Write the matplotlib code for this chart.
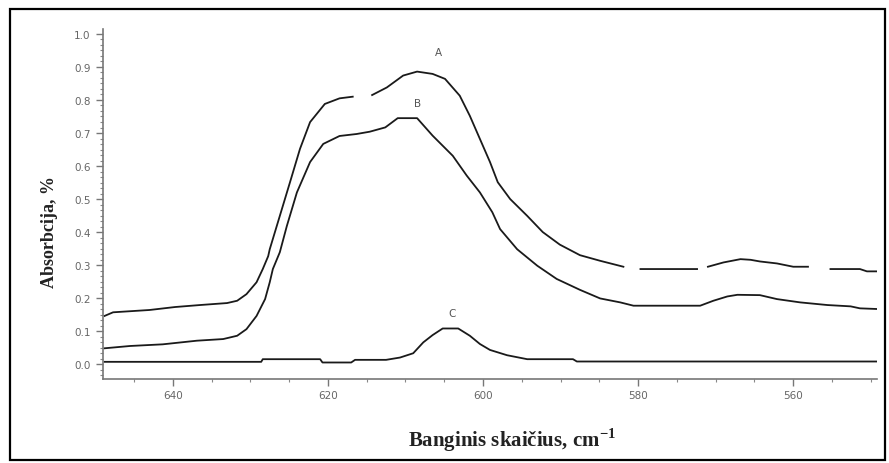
import numpy as np
import matplotlib
matplotlib.use("Agg")
import matplotlib.pyplot as plt
from matplotlib.ticker import MultipleLocator, AutoMinorLocator
from matplotlib.patches import Rectangle

plt.rcParams['mathtext.fontset'] = 'custom'
plt.rcParams['mathtext.rm'] = 'Liberation Serif'
plt.rcParams['mathtext.bf'] = 'Liberation Serif:bold'

# Spectra, wavenumber (cm-1) and absorption; nan marks breaks in the trace
wn_a = [648.8, 647.7, 643.0, 639.7, 636.5, 633.0, 631.7, 630.5, 629.2, 628.4,
        627.7, 627.5, 626.2, 624.9, 623.6, 622.3, 620.4, 618.5, 616.8, np.nan,
        614.3, 612.4, 610.3, 608.5, 606.5, 604.9, 603.0, 601.7, 600.4, 599.1,
        598.1, 596.5, 594.3, 592.3, 590.1, 587.5, 584.9, 581.9, np.nan, 579.7,
        572.4, np.nan, 571.0, 569.0, 566.8, 565.5, 564.3, 562.1, 560.0, 558.1,
        np.nan, 555.2, 551.4, 550.5, 549.2]
abs_a = [0.146, 0.157, 0.164, 0.173, 0.179, 0.185, 0.192, 0.212, 0.248, 0.288,
         0.327, 0.348, 0.449, 0.550, 0.652, 0.733, 0.788, 0.805, 0.810, np.nan,
         0.815, 0.838, 0.874, 0.886, 0.879, 0.864, 0.813, 0.752, 0.682, 0.612,
         0.551, 0.500, 0.449, 0.400, 0.362, 0.330, 0.313, 0.295, np.nan, 0.288,
         0.288, np.nan, 0.295, 0.308, 0.318, 0.316, 0.311, 0.305, 0.295, 0.295,
         np.nan, 0.288, 0.288, 0.281, 0.281]

wn_b = [648.8, 645.5, 641.3, 636.9, 633.5, 631.7, 630.5, 629.2, 628.1, 627.5,
        627.1, 626.2, 625.3, 624.0, 622.3, 620.6, 618.5, 616.3, 614.6, 612.6,
        611.0, 608.5, 606.5, 603.9, 602.1, 600.4, 598.8, 597.8, 595.6, 593.0,
        590.5, 587.5, 584.9, 582.3, 580.6, 572.0, 570.3, 568.5, 567.2, 564.3,
        562.1, 559.1, 555.6, 552.6, 551.4, 549.2]
abs_b = [0.048, 0.055, 0.060, 0.071, 0.076, 0.086, 0.106, 0.146, 0.197, 0.248,
         0.288, 0.339, 0.418, 0.520, 0.612, 0.667, 0.691, 0.697, 0.704, 0.717,
         0.745, 0.745, 0.692, 0.631, 0.571, 0.520, 0.460, 0.409, 0.348, 0.298,
         0.258, 0.225, 0.199, 0.187, 0.177, 0.177, 0.192, 0.205, 0.210, 0.209,
         0.197, 0.187, 0.179, 0.175, 0.169, 0.167]

wn_c = [648.8, 628.6, 628.4, 621.0, 620.7, 617.0, 616.5, 612.5, 610.7, 609.0,
        607.7, 606.5, 605.2, 603.2, 601.7, 600.4, 599.1, 596.9, 594.3, 588.4,
        587.9, 549.2]
abs_c = [0.007, 0.007, 0.015, 0.015, 0.005, 0.005, 0.013, 0.013, 0.020, 0.033,
         0.066, 0.088, 0.108, 0.108, 0.086, 0.061, 0.043, 0.027, 0.015, 0.015,
         0.008, 0.008]

curve_names = ['A', 'B', 'C']
name_wn = [605.8, 608.4, 604.0]
name_abs = [0.945, 0.790, 0.155]

fig = plt.figure(figsize=(8.89, 4.64), dpi=100)
ax = fig.add_axes([103 / 889, 1 - 380 / 464, 774 / 889, 350 / 464])

line_kw = dict(color='#1a1a1a', linewidth=1.3)
ax.plot(wn_a, abs_a, **line_kw)
ax.plot(wn_b, abs_b, **line_kw)
ax.plot(wn_c, abs_c, **line_kw)

for name, x, y in zip(curve_names, name_wn, name_abs):
    ax.text(x, y, name, ha='center', va='center', fontsize=7.5, color='#555555')

ax.set_xlim(649.0, 549.2)
ax.set_ylim(-0.045, 1.015)

ax.xaxis.set_major_locator(MultipleLocator(20))
ax.xaxis.set_minor_locator(MultipleLocator(5))
ax.yaxis.set_minor_locator(AutoMinorLocator(6))
ax.set_yticks(np.arange(0, 1.01, 0.1))
ax.yaxis.set_major_formatter(matplotlib.ticker.FormatStrFormatter('%.1f'))

for side in ['top', 'right']:
    ax.spines[side].set_visible(False)
for side in ['left', 'bottom']:
    ax.spines[side].set_color('#777777')
    ax.spines[side].set_linewidth(1.2)

ax.tick_params(which='major', length=5, width=1, color='#777777',
               labelsize=7.5, labelcolor='#666666', pad=4)
ax.tick_params(which='minor', length=2.5, width=0.8, color='#888888')
ax.tick_params(axis='x', which='major', pad=3)

fig.text(512 / 889, 1 - 440 / 464, r'Banginis skaičius, cm$^{\mathbf{-1}}$',
         ha='center', va='center', fontsize=15, family='Liberation Serif',
         fontweight='bold', color='#222222')
fig.text(50 / 889, 1 - 232 / 464, 'Absorbcija, %', rotation=90,
         ha='center', va='center', fontsize=13, family='Liberation Serif',
         fontweight='bold', color='#222222')

# border round the whole figure
fig.patches.append(Rectangle((10 / 889, 1 - 461 / 464), 875 / 889, 451 / 464,
                             transform=fig.transFigure, fill=False,
                             edgecolor='black', linewidth=1.6))

fig.savefig('out.png', dpi=100)
